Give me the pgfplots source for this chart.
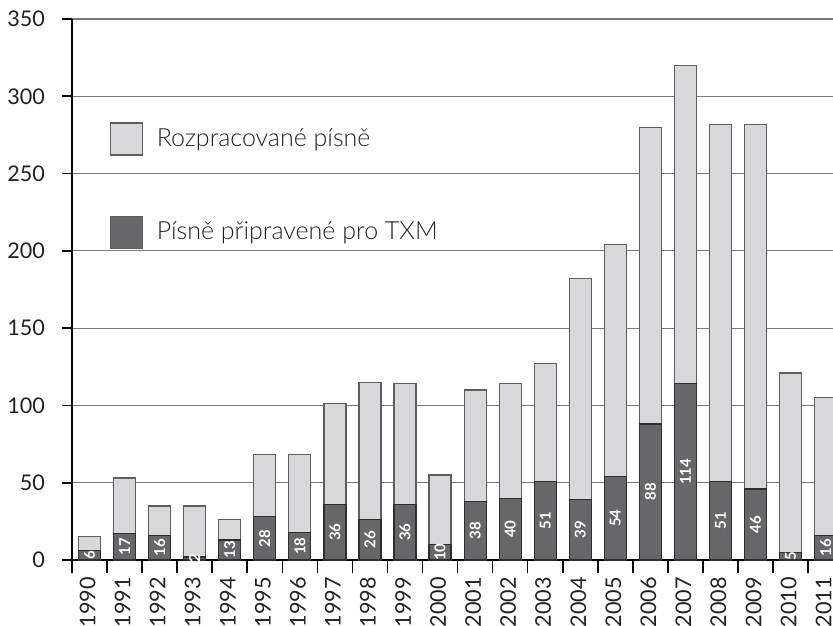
\documentclass[border=0pt]{standalone}
\usepackage{fontspec}
\setmainfont{Lato}
\IfFontExistsTF{Lato Light}{\newfontfamily\lightfont{Lato Light}}{\newfontfamily\lightfont{Lato}}
\usepackage{pgfplots}
\pgfplotsset{compat=1.18}
\usepackage{pgfplotstable}
\definecolor{lightbar}{HTML}{D7D8DA}
\definecolor{darkbar}{HTML}{67676A}
\definecolor{lightedge}{HTML}{5E5E5E}
\definecolor{darkedge}{HTML}{2E2E2E}
\definecolor{gridc}{HTML}{7A7A7A}
\definecolor{textc}{HTML}{222222}

\pgfplotstableread{
x year total ready
0 1990 15 6
1 1991 53 17
2 1992 35 16
3 1993 35 2
4 1994 26 13
5 1995 68 28
6 1996 68 18
7 1997 101 36
8 1998 115 26
9 1999 114 36
10 2000 55 10
11 2001 110 38
12 2002 114 40
13 2003 127 51
14 2004 182 39
15 2005 204 54
16 2006 280 88
17 2007 320 114
18 2008 282 51
19 2009 282 46
20 2010 121 5
21 2011 105 16
}\data

\begin{document}
\begin{tikzpicture}
\begin{axis}[
  name=ax,
  scale only axis,
  width=380.5pt, height=270.5pt,
  xmin=-0.5, xmax=21.21, ymin=0, ymax=350,
  axis lines*=left,
  axis line style={black, line width=0.8pt},
  ytick={0,50,...,350},
  ymajorgrids,
  major grid style={gridc, line width=0.6pt},
  xtick={0,...,21},
  xticklabels={1990,1991,1992,1993,1994,1995,1996,1997,1998,1999,2000,2001,2002,2003,2004,2005,2006,2007,2008,2009,2010,2011},
  minor xtick={-0.5,0.5,...,20.5},
  tick align=outside,
  major tick length=5pt,
  minor tick length=6.5pt,
  major x tick style={draw=none},
  tick style={black, line width=0.8pt},
  minor tick style={black, line width=0.8pt},
  /pgf/number format/assume math mode=true,
  ticklabel style={font=\fontsize{10.8}{12}\selectfont, text=textc},
  xticklabel style={rotate=90, anchor=east, yshift=1pt},
  yticklabel style={xshift=-5pt},
  legend style={at={(0.041,0.817)}, anchor=north west, draw=none, fill=none,
    font=\lightfont\fontsize{12.5}{14}\selectfont, text=textc, row sep=30pt, legend cell align=left},
]
\addplot[ybar, bar width=11pt, bar shift=0pt, fill=lightbar, draw=lightedge, line width=0.6pt,
  legend image code/.code={\draw[fill=lightbar, draw=lightedge, line width=0.6pt] (0pt,-8pt) rectangle (16pt,8pt); \path (21pt,0pt);}]
  table[x=x, y=total]{\data};
\addlegendentry{Rozpracované písně}
\addplot[ybar, bar width=11pt, bar shift=0pt, fill=darkbar, draw=darkedge, line width=0.6pt,
  legend image code/.code={\draw[fill=darkbar, draw=lightedge, line width=0.6pt] (0pt,-8pt) rectangle (16pt,8pt); \path (21pt,0pt);}]
  table[x=x, y=ready]{\data};
\addlegendentry{Písně připravené pro TXM}
\addplot[only marks, mark=none, forget plot, nodes near coords, point meta=explicit symbolic,
  every node near coord/.append style={anchor=center, rotate=90, text=white, inner sep=0pt,
    font=\bfseries\fontsize{7.5}{8}\selectfont}]
  table[x=x, y expr=\thisrow{ready}/2, meta=ready]{\data};
\end{axis}
\pgfresetboundingbox
\path ([xshift=-36pt,yshift=-32.5pt]ax.south west) rectangle ([yshift=9.5pt]ax.north east);
\end{tikzpicture}
\end{document}
